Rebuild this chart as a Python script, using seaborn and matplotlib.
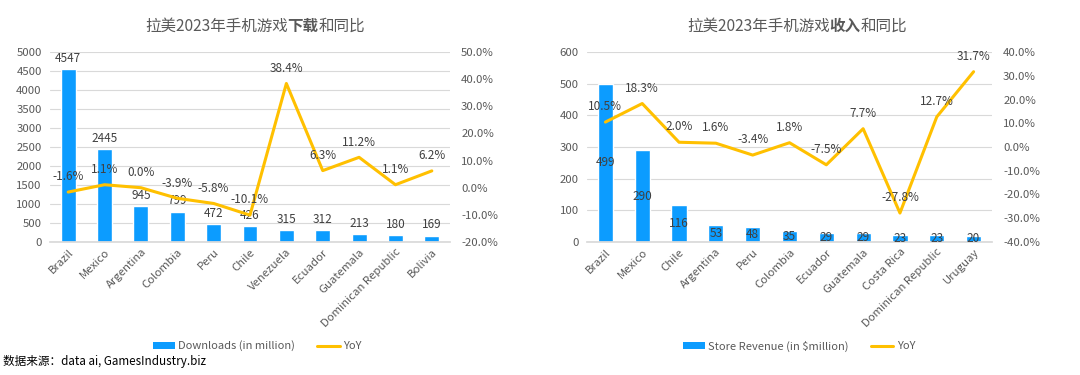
import matplotlib
matplotlib.use("Agg")
import matplotlib.pyplot as plt
import seaborn as sns
import numpy as np
from matplotlib.patches import Patch
from matplotlib.lines import Line2D
from matplotlib.ticker import FuncFormatter, MultipleLocator

# ---------------- data ----------------
dl_countries = ["Brazil", "Mexico", "Argentina", "Colombia", "Peru", "Chile",
                "Venezuela", "Ecuador", "Guatemala", "Dominican Republic", "Bolivia"]
dl_values = [4547, 2445, 945, 799, 472, 426, 315, 312, 213, 180, 169]
dl_yoy = [-1.6, 1.1, 0.0, -3.9, -5.8, -10.1, 38.4, 6.3, 11.2, 1.1, 6.2]

rev_countries = ["Brazil", "Mexico", "Chile", "Argentina", "Peru", "Colombia",
                 "Ecuador", "Guatemala", "Costa Rica", "Dominican Republic", "Uruguay"]
rev_values = [499, 290, 116, 53, 48, 35, 29, 29, 23, 23, 20]
rev_yoy = [10.5, 18.3, 2.0, 1.6, -3.4, 1.8, -7.5, 7.7, -27.8, 12.7, 31.7]

title_pre = "拉美2023年手机游戏"
title_dl_bold = "下载"
title_rev_bold = "收入"
title_post = "和同比"
legend_dl = "Downloads (in million)"
legend_rev = "Store Revenue (in $million)"
legend_yoy = "YoY"
source_text = "数据来源：data ai, GamesIndustry.biz"

# ---------------- style ----------------
sns.set_theme(style="white")
plt.rcParams['font.family'] = ['Noto Sans CJK SC', 'DejaVu Sans']
BLUE = "#0C9CFF"
GOLD = "#FFC000"
TXT = "#595959"
LBL = "#404040"
GRID = "#D9D9D9"

fig = plt.figure(figsize=(10.8, 3.75), dpi=100)

def draw_title(bold, xc):
    fs = 11.2
    t1 = fig.text(0, 0, title_pre, fontsize=fs, color=TXT, va="baseline")
    t2 = fig.text(0, 0, bold, fontsize=fs, color=TXT, weight="bold", va="baseline")
    t3 = fig.text(0, 0, title_post, fontsize=fs, color=TXT, va="baseline")
    fig.canvas.draw()
    r = fig.canvas.get_renderer()
    w1 = t1.get_window_extent(r).width
    w2 = t2.get_window_extent(r).width
    w3 = t3.get_window_extent(r).width
    W = fig.bbox.width
    total = w1 + w2 + w3
    x0 = xc * W - total / 2
    yb = 1 - 31 / 375
    t1.set_position((x0 / W, yb))
    t2.set_position(((x0 + w1) / W, yb))
    t3.set_position(((x0 + w1 + w2) / W, yb))


def make_panel(rect, cats, vals, yoy, ymax, ystep, y2min, y2max, bar_label_type,
               legend_bar, title_bold, title_xc, legend_xc):
    ax = fig.add_axes(rect)
    sns.barplot(x=cats, y=vals, ax=ax, color=BLUE, width=0.41, saturation=1)
    ax.set_xlim(-0.5, len(cats) - 0.5)
    ax.set_ylim(0, ymax)
    ax.yaxis.set_major_locator(MultipleLocator(ystep))
    ax.grid(axis="y", color=GRID, linewidth=0.8)
    ax.set_axisbelow(True)
    for s in ["top", "right", "left"]:
        ax.spines[s].set_visible(False)
    ax.spines["bottom"].set_color(GRID)
    ax.tick_params(axis="both", length=0, labelsize=8.2, labelcolor=TXT)
    ax.tick_params(axis="y", pad=6)
    ax.set_xticks(range(len(cats)))
    ax.set_xticklabels(cats, rotation=45, ha="right", rotation_mode="anchor")
    ax.set_xlabel("")
    ax.set_ylabel("")
    if bar_label_type == "edge":
        ax.bar_label(ax.containers[0], labels=[str(v) for v in vals], padding=3,
                     fontsize=8.5, color=LBL)
    else:
        ax.bar_label(ax.containers[0], labels=[str(v) for v in vals], label_type="center",
                     fontsize=8.5, color=LBL)

    ax2 = ax.twinx()
    sns.lineplot(x=np.arange(len(cats)), y=yoy, ax=ax2, color=GOLD, linewidth=2.2)
    ax2.set_ylim(y2min, y2max)
    ax2.yaxis.set_major_locator(MultipleLocator(10))
    ax2.yaxis.set_major_formatter(FuncFormatter(lambda v, p: f"{v:.1f}%"))
    for s in ["top", "right", "left", "bottom"]:
        ax2.spines[s].set_visible(False)
    ax2.tick_params(axis="y", length=0, labelsize=8.2, labelcolor=TXT, pad=8)
    ax2.set_ylabel("")
    ax2.grid(False)
    for i, v in enumerate(yoy):
        ax2.annotate(f"{v:.1f}%", (i, v), xytext=(0, 11), textcoords="offset points",
                     ha="center", va="center", fontsize=8.5, color=LBL)

    draw_title(title_bold, title_xc)

    handles = [Patch(facecolor=BLUE, edgecolor="none"),
               Line2D([0], [0], color=GOLD, linewidth=2.2)]
    fig.legend(handles, [legend_bar, legend_yoy], loc="center",
               bbox_to_anchor=(legend_xc, 1 - 346 / 375), ncol=2, frameon=False,
               fontsize=8, labelcolor=TXT, handlelength=2.0, handleheight=0.5,
               handletextpad=0.3, columnspacing=2.0)
    return ax, ax2


make_panel([50 / 1080, 1 - 242 / 375, 400 / 1080, 190 / 375],
           dl_countries, dl_values, dl_yoy, 5000, 500, -20, 50, "edge",
           legend_dl, title_dl_bold, 255 / 1080, 257 / 1080)
make_panel([587 / 1080, 1 - 242 / 375, 405 / 1080, 190 / 375],
           rev_countries, rev_values, rev_yoy, 600, 100, -40, 40, "center",
           legend_rev, title_rev_bold, 797 / 1080, 799 / 1080)

fig.text(3 / 1080, 1 - 362 / 375, source_text, fontsize=8.4, color="#000000",
         va="center", ha="left")

fig.savefig("out.png", dpi=100, facecolor="white")
